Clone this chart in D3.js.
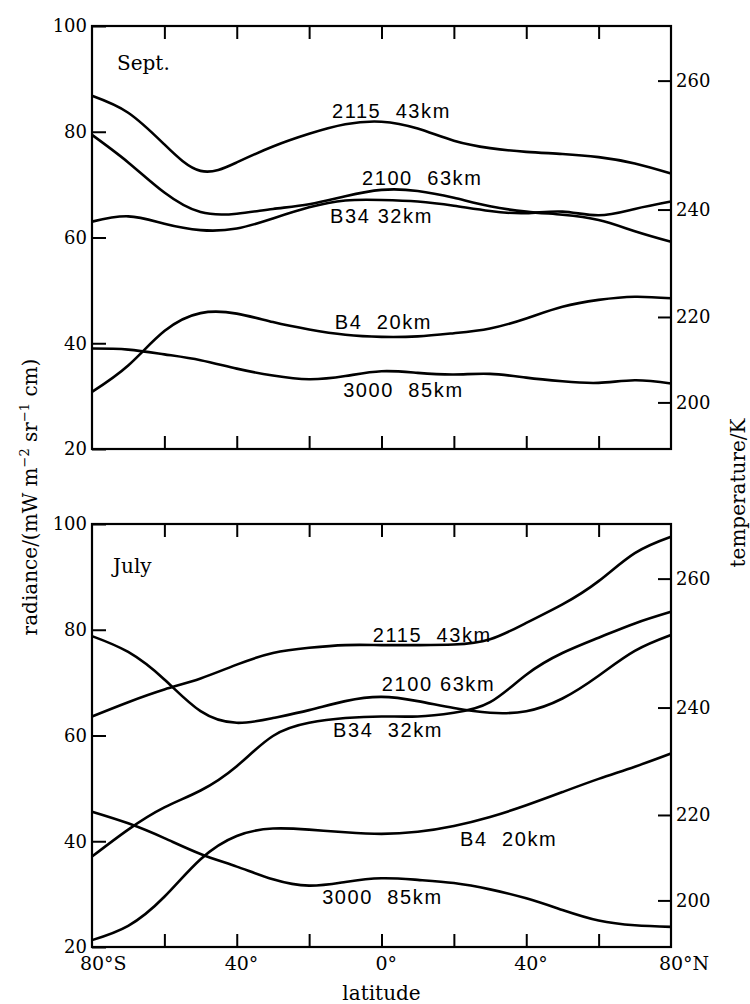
<!DOCTYPE html>
<html>
<head>
<meta charset="utf-8">
<script src="https://cdn.jsdelivr.net/npm/d3@7"></script>
<style>
  body { margin: 0; background: #fff; }
  svg { display: block; }
</style>
</head>
<body>
<script>
// Chart size
let w = 750;
let h = 1004;

let latitudes = [-80, -70, -60, -50, -40, -30, -20, -10, 0, 10, 20, 30, 40, 50, 60, 70, 80];

// September radiances, mW m-2 sr-1 cm
let sept2115 = [86.8, 83.6, 77.6, 72.6, 74.2, 77.2, 79.6, 81.4, 81.9, 80.6, 78.3, 76.9, 76.2, 75.8, 75.2, 74.0, 72.1];
let sept2100 = [79.4, 74.2, 68.5, 64.8, 64.5, 65.4, 66.3, 67.8, 69.0, 68.8, 67.5, 65.9, 64.9, 64.3, 63.3, 61.2, 59.2];
let septB34  = [63.0, 64.0, 62.6, 61.4, 61.7, 63.6, 65.7, 67.0, 67.1, 66.8, 66.0, 65.0, 64.6, 64.9, 64.2, 65.4, 66.8];
let septB4   = [30.8, 35.8, 42.3, 45.7, 45.6, 44.0, 42.6, 41.6, 41.2, 41.3, 41.9, 42.8, 44.7, 46.9, 48.2, 48.8, 48.5];
let sept3000 = [39.0, 38.8, 37.9, 36.8, 35.2, 33.9, 33.2, 33.8, 34.7, 34.4, 34.1, 34.2, 33.5, 32.8, 32.5, 33.0, 32.4];

// July radiances
let july2115 = [63.6, 66.3, 68.7, 70.8, 73.4, 75.6, 76.6, 77.1, 77.1, 77.1, 77.2, 78.2, 81.3, 84.8, 89.2, 94.5, 97.6];
let july2100 = [78.8, 75.8, 70.6, 64.6, 62.4, 63.3, 64.8, 66.5, 67.3, 66.5, 65.2, 64.3, 64.6, 67.0, 71.3, 76.0, 79.0];
let julyB34  = [37.1, 42.2, 46.4, 49.6, 54.2, 59.9, 62.4, 63.3, 63.6, 63.6, 64.3, 66.3, 71.5, 75.6, 78.5, 81.2, 83.4];
let julyB4   = [21.3, 24.0, 29.5, 36.6, 41.0, 42.4, 42.2, 41.7, 41.4, 41.8, 42.9, 44.6, 46.8, 49.3, 51.8, 54.1, 56.6];
let july3000 = [45.6, 43.4, 40.6, 37.6, 35.2, 32.8, 31.6, 32.3, 33.0, 32.7, 32.1, 30.9, 29.2, 27.0, 25.0, 24.1, 23.8];

// Curve labels (channel, altitude)
let septNames = ["2115  43km", "2100  63km", "B34 32km", "B4  20km", "3000  85km"];
let julyNames = ["2115  43km", "2100 63km", "B34  32km", "B4  20km", "3000  85km"];

// Axis ticks
let radianceTicks = [20, 40, 60, 80, 100];
let temperatureTicks = [200, 220, 240, 260];
let latTicks = [-80, -60, -40, -20, 0, 20, 40, 60, 80];
let latTickNumbers = ["80", "", "40", "", "0", "", "40", "", "80"];
let latTickSuffix = ["°S", "", "°", "", "°", "", "°", "", "°N"];

// Planck radiance for the 15 micron band, used to place the temperature axis
function planck(t) {
    let nu = 674;
    return 1.191042e-5 * nu * nu * nu / (Math.exp(1.4387752 * nu / t) - 1);
}

let left = 92, plotW = 579, plotH = 423;

let svg = d3.select("body")
    .append("svg")
    .attr("width", w)
    .attr("height", h);

let x = d3.scaleLinear().domain([-80, 80]).range([0, plotW]);
let y = d3.scaleLinear().domain([20, 100]).range([plotH, 0]);

let line = d3.line()
    .x(function(d) { return x(d[0]); })
    .y(function(d) { return y(d[1]); })
    .curve(d3.curveNatural);

let panels = [
    {
        title: "Sept.", top: 26, titlePos: [25, 44],
        series: [sept2115, sept2100, septB34, septB4, sept3000],
        names: septNames,
        // label anchors in data units: [latitude, radiance]
        anchors: [[-13.7, 82.6], [-5.4, 69.9], [-14.2, 62.7], [-12.9, 42.7], [-10.6, 29.8]]
    },
    {
        title: "July", top: 524, titlePos: [21, 49],
        series: [july2115, july2100, julyB34, julyB4, july3000],
        names: julyNames,
        anchors: [[-2.4, 77.7], [0.1, 68.4], [-13.4, 59.7], [21.7, 39.1], [-16.4, 28.1]]
    }
];

let serif = "DejaVu Serif";

panels.forEach(function(p, pi) {
    let g = svg.append("g").attr("transform", "translate(" + left + "," + p.top + ")");

    // left radiance axis, inner ticks
    let yAxis = g.append("g")
        .call(d3.axisLeft(y).tickValues(radianceTicks).tickSizeInner(-14).tickSizeOuter(0).tickPadding(5));

    // right temperature axis, placed by radiance
    let tAxis = g.append("g")
        .attr("transform", "translate(" + plotW + ",0)")
        .call(d3.axisRight(y)
            .tickValues(temperatureTicks.map(planck))
            .tickFormat(function(d, i) { return temperatureTicks[i]; })
            .tickSizeInner(-13).tickSizeOuter(0).tickPadding(5));

    // top and bottom inner ticks
    let topAxis = g.append("g")
        .call(d3.axisTop(x).tickValues(latTicks.slice(1, -1)).tickSizeInner(-13).tickSizeOuter(0).tickFormat(""));
    let botAxis = g.append("g")
        .attr("transform", "translate(0," + plotH + ")")
        .call(d3.axisBottom(x).tickValues(latTicks.slice(1, -1)).tickSizeInner(-13).tickSizeOuter(0).tickFormat(""));

    [yAxis, tAxis, topAxis, botAxis].forEach(function(a) {
        a.attr("font-family", serif).attr("font-size", 18);
        a.select(".domain").remove();
        a.selectAll("line").attr("stroke", "#000").attr("stroke-width", 2);
        a.selectAll("text").attr("fill", "#000");
    });

    // frame
    g.append("rect")
        .attr("width", plotW)
        .attr("height", plotH)
        .attr("fill", "none")
        .attr("stroke", "#000")
        .attr("stroke-width", 2.2);

    // curves
    g.selectAll("path.curve")
        .data(p.series)
        .enter()
        .append("path")
        .attr("class", "curve")
        .attr("d", function(s) {
            return line(s.map(function(v, i) { return [latitudes[i], v]; }));
        })
        .attr("fill", "none")
        .attr("stroke", "#000")
        .attr("stroke-width", 2.6);

    // curve labels
    g.selectAll("text.lab")
        .data(p.names)
        .enter()
        .append("text")
        .attr("class", "lab")
        .attr("x", function(d, i) { return x(p.anchors[i][0]); })
        .attr("y", function(d, i) { return y(p.anchors[i][1]); })
        .attr("font-family", "Liberation Sans")
        .attr("font-size", 20)
        .attr("letter-spacing", 1.6)
        .style("white-space", "pre")
        .text(function(d) { return d; });

    // month
    g.append("text")
        .attr("x", p.titlePos[0])
        .attr("y", p.titlePos[1])
        .attr("font-family", serif)
        .attr("font-size", 20)
        .text(p.title);

    // latitude labels under the lower panel: number centred on tick
    if (pi === 1) {
        latTicks.forEach(function(lat, i) {
            if (latTickNumbers[i] === "") return;
            let t = g.append("text")
                .attr("y", plotH + 23)
                .attr("font-family", serif)
                .attr("font-size", 19)
                .text(latTickNumbers[i]);
            let nw = t.node().getComputedTextLength();
            t.attr("x", x(lat) - nw / 2).text(latTickNumbers[i] + latTickSuffix[i]);
        });
    }
});

// axis titles
svg.append("text")
    .attr("x", left + x(0))
    .attr("y", 1000)
    .attr("text-anchor", "middle")
    .attr("font-family", serif)
    .attr("font-size", 20)
    .text("latitude");

let yt = svg.append("text")
    .attr("transform", "translate(37,497) rotate(-90)")
    .attr("text-anchor", "middle")
    .attr("font-family", serif)
    .attr("font-size", 20);
yt.append("tspan").text("radiance/(mW m");
yt.append("tspan").attr("dy", -8).attr("font-size", 13).text("−2");
yt.append("tspan").attr("dy", 8).text(" sr");
yt.append("tspan").attr("dy", -8).attr("font-size", 13).text("−1");
yt.append("tspan").attr("dy", 8).text(" cm)");

svg.append("text")
    .attr("transform", "translate(745,493) rotate(-90)")
    .attr("text-anchor", "middle")
    .attr("font-family", serif)
    .attr("font-size", 20)
    .text("temperature/K");
</script>
</body>
</html>
